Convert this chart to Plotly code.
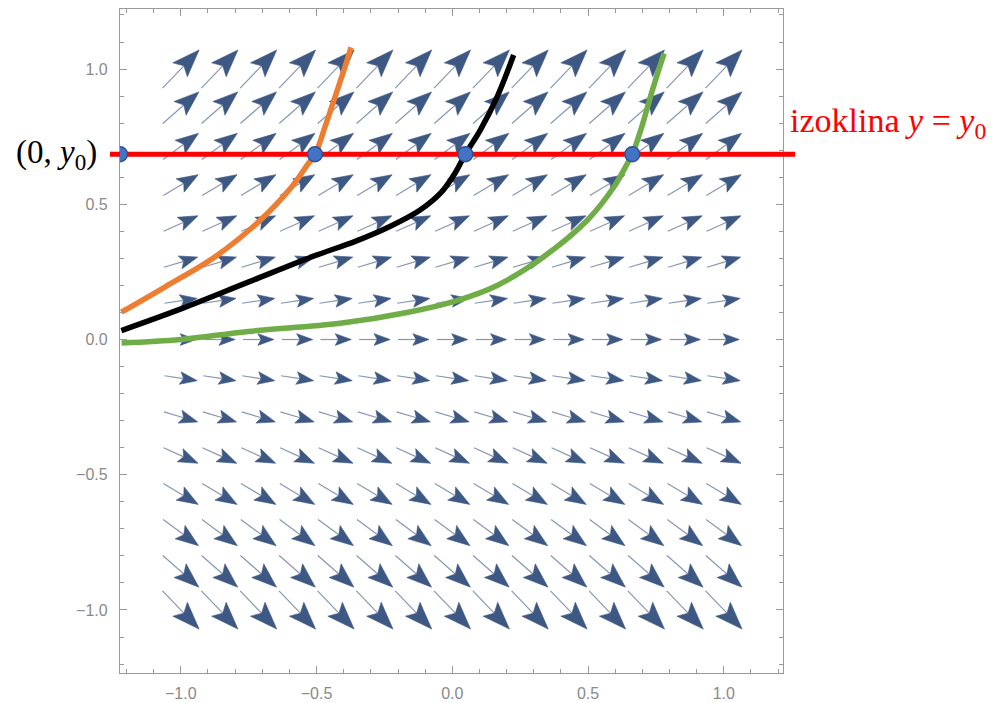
import numpy as np
import plotly.graph_objects as go

# ---------------- data ----------------
grid_x = [-1.0, -0.857, -0.714, -0.571, -0.429, -0.286, -0.143, 0.0,
          0.143, 0.286, 0.429, 0.571, 0.714, 0.857, 1.0]
grid_y = [-1.0, -0.857, -0.714, -0.571, -0.429, -0.286, -0.143, 0.0,
          0.143, 0.286, 0.429, 0.571, 0.714, 0.857, 1.0]
# slope of the arrows in each row (bottom to top)
row_slope = [-1.05, -0.88, -0.74, -0.60, -0.45, -0.30, -0.15, 0.0,
             0.15, 0.30, 0.45, 0.60, 0.74, 0.88, 1.05]
# arrow length in each row (x units)
row_len = [0.195, 0.177, 0.162, 0.150, 0.139, 0.130, 0.122, 0.114,
           0.122, 0.130, 0.139, 0.150, 0.162, 0.177, 0.195]

orange_x = [-1.219, -1.059, -0.875, -0.715, -0.592, -0.530, -0.506, -0.469, -0.432, -0.395, -0.373]
orange_y = [0.101, 0.194, 0.305, 0.434, 0.564, 0.651, 0.683, 0.786, 0.897, 1.009, 1.080]

black_x = [-1.219, -0.997, -0.752, -0.506, -0.360, -0.230, -0.120, -0.040, 0.010, 0.048, 0.103, 0.165, 0.226]
black_y = [0.033, 0.114, 0.212, 0.310, 0.362, 0.418, 0.478, 0.545, 0.615, 0.685, 0.774, 0.897, 1.052]

green_x = [-1.218, -1.0, -0.752, -0.413, -0.167, 0.017, 0.165, 0.335, 0.497, 0.595, 0.645, 0.663, 0.694, 0.737, 0.780]
green_y = [-0.013, 0.0, 0.030, 0.060, 0.100, 0.144, 0.200, 0.305, 0.441, 0.564, 0.651, 0.685, 0.774, 0.922, 1.058]

y0 = 0.685
dot_x = [-0.506, 0.048, 0.663]

x_tick_vals = [-1.0, -0.5, 0.0, 0.5, 1.0]
x_tick_text = ["\u22121.0", "\u22120.5", "0.0", "0.5", "1.0"]
y_tick_vals = [-1.0, -0.5, 0.0, 0.5, 1.0]
y_tick_text = ["\u22121.0", "\u22120.5", "0.0", "0.5", "1.0"]

# ---------------- layout constants ----------------
W, H = 998, 703
ML, MR, MT, MB = 120, 215, 9, 30
XR = [-1.224, 1.218]
YR = [-1.233, 1.222]
PW, PH = W - ML - MR, H - MT - MB
sx = PW / (XR[1] - XR[0])
sy = PH / (YR[1] - YR[0])

ARROW_COL = "rgb(62,88,132)"

# ---------------- build arrows ----------------
tx, ty, hx, hy = [], [], [], []
for j, yc in enumerate(grid_y):
    s = row_slope[j]
    Lp = row_len[j] * sx            # arrow length in px
    dxp, dyp = 1.0, s * sy / sx     # direction in px space
    n = np.hypot(dxp, dyp)
    ux, uy = dxp / n, dyp / n       # unit direction (px)
    px_, py_ = -uy, ux              # perpendicular
    Lh = 0.52 * Lp
    Wh = 0.19 * Lp
    notch = 0.80 * Lh
    for xc in grid_x:
        tail = (-ux * Lp / 2, -uy * Lp / 2)
        tip = (ux * Lp / 2, uy * Lp / 2)
        nt = (tip[0] - ux * notch, tip[1] - uy * notch)
        b1 = (tip[0] - ux * Lh + px_ * Wh, tip[1] - uy * Lh + py_ * Wh)
        b2 = (tip[0] - ux * Lh - px_ * Wh, tip[1] - uy * Lh - py_ * Wh)
        tx += [xc + tail[0] / sx, xc + nt[0] / sx, None]
        ty += [yc + tail[1] / sy, yc + nt[1] / sy, None]
        for p in (tip, b1, nt, b2, tip):
            hx.append(xc + p[0] / sx)
            hy.append(yc + p[1] / sy)
        hx.append(None)
        hy.append(None)

fig = go.Figure()
fig.add_trace(go.Scatter(x=tx, y=ty, mode="lines",
                         line=dict(color="rgba(85,105,145,0.7)", width=1.2),
                         hoverinfo="skip", showlegend=False))
fig.add_trace(go.Scatter(x=hx, y=hy, mode="lines", fill="toself",
                         fillcolor=ARROW_COL,
                         line=dict(color=ARROW_COL, width=0.6),
                         hoverinfo="skip", showlegend=False))

for cx, cy, col in [(orange_x, orange_y, "#ED7D31"),
                    (black_x, black_y, "#000000"),
                    (green_x, green_y, "#70AD47")]:
    fig.add_trace(go.Scatter(x=cx, y=cy, mode="lines",
                             line=dict(color=col, width=5.5, shape="spline", smoothing=1.0),
                             showlegend=False))

shapes = [dict(type="line", xref="paper", yref="y", x0=(110 - ML) / PW, x1=(795 - ML) / PW,
               y0=y0, y1=y0, line=dict(color="#FF0000", width=5), layer="above")]
for xd in [XR[0]] + dot_x:
    shapes.append(dict(type="circle", xref="x", yref="y",
                       xsizemode="pixel", ysizemode="pixel",
                       xanchor=xd, yanchor=y0,
                       x0=-7.5, x1=7.5, y0=-7.5, y1=7.5,
                       fillcolor="#4472C4", line=dict(color="#2F528F", width=1.5),
                       layer="above"))

annotations = [
    dict(text="(0, <i>y</i><sub>0</sub>)", xref="paper", yref="y",
         x=(99 - ML) / PW, y=y0, xanchor="right", yanchor="middle",
         showarrow=False, font=dict(family="Liberation Serif", size=33, color="#000000")),
    dict(text="izoklina <i>y</i> = <i>y</i><sub>0</sub>", xref="paper", yref="y",
         x=(788 - ML) / PW, y=0.80, xanchor="left", yanchor="middle",
         showarrow=False, font=dict(family="Liberation Serif", size=34, color="#FF0000")),
]

axis_common = dict(showline=True, linecolor="#9a9a9a", linewidth=1.2, mirror="ticks",
                   ticks="inside", ticklen=7, tickwidth=1, tickcolor="#9a9a9a",
                   showgrid=False, zeroline=False, automargin=False,
                   tickfont=dict(family="Liberation Sans", size=16, color="#8a8a8a"),
                   minor=dict(ticks="inside", ticklen=4, tickcolor="#9a9a9a",
                              dtick=0.1, tick0=0, showgrid=False))

fig.update_layout(
    width=W, height=H,
    margin=dict(l=ML, r=MR, t=MT, b=MB, autoexpand=False),
    paper_bgcolor="white", plot_bgcolor="white",
    xaxis=dict(range=XR, tickvals=x_tick_vals, ticktext=x_tick_text,
               ticklabelstandoff=6, **axis_common),
    yaxis=dict(range=YR, tickvals=y_tick_vals, ticktext=y_tick_text,
               ticklabelstandoff=8, **axis_common),
    shapes=shapes, annotations=annotations,
)

fig.write_html("out.html", config={"displayModeBar": False},
               post_script="document.body.style.margin='0px';document.body.style.overflow='hidden';")
